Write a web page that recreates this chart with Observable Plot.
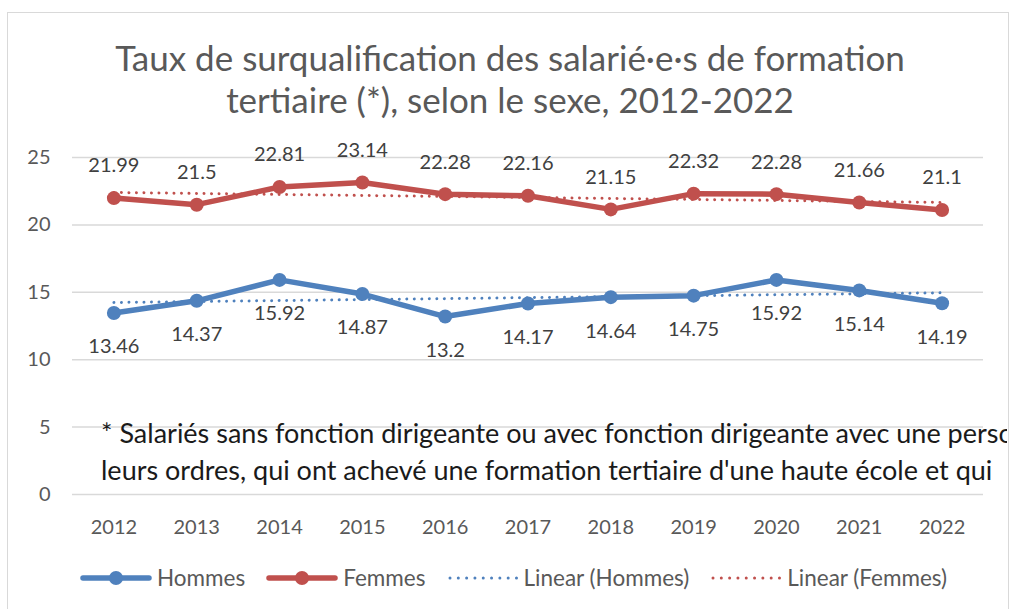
<!DOCTYPE html>
<html><head><meta charset="utf-8">
<script src="https://cdn.jsdelivr.net/npm/d3@7"></script>
<script src="https://cdn.jsdelivr.net/npm/@observablehq/plot@0.6"></script>
<style>
body{margin:0;background:#fff;width:1016px;height:609px;overflow:hidden;position:relative;font-family:Lato,sans-serif;}
#frame{position:absolute;left:7px;top:12px;width:1002px;height:640px;border:1.5px solid #d9d9d9;box-sizing:border-box;}
#chart{position:absolute;left:0;top:0;}
#title{position:absolute;left:0;width:1020px;top:36px;text-align:center;font-size:35px;line-height:42px;color:#595959;}
#note{position:absolute;left:101px;top:414px;width:906px;overflow:hidden;white-space:nowrap;font-size:27px;line-height:37px;color:#1a1a1a;}
#legend{position:absolute;left:80px;top:564px;display:flex;gap:21px;font-size:22.5px;color:#595959;align-items:center;}
.item{display:flex;align-items:center;gap:5px;}
</style></head><body>
<div id="frame"></div>
<div id="chart"></div>
<div id="title">Taux de surqualification des salarié·e·s de formation<br>tertiaire (*), selon le sexe, 2012-2022</div>
<div id="note">* Salariés sans fonction dirigeante ou avec fonction dirigeante avec une personne sous<br>leurs ordres, qui ont achevé une formation tertiaire d'une haute école et qui</div>
<div id="legend"></div>
<script>
const years = [2012, 2013, 2014, 2015, 2016, 2017, 2018, 2019, 2020, 2021, 2022];
const hommes = [13.46, 14.37, 15.92, 14.87, 13.2, 14.17, 14.64, 14.75, 15.92, 15.14, 14.19];
const femmes = [21.99, 21.5, 22.81, 23.14, 22.28, 22.16, 21.15, 22.32, 22.28, 21.66, 21.1];
const yTicks = [0, 5, 10, 15, 20, 25];
const seriesNames = ["Hommes", "Femmes"];
const legendLabels = ["Hommes", "Femmes", "Linear (Hommes)", "Linear (Femmes)"];
const colors = {Hommes: "#4f81bd", Femmes: "#c0504d"};

const rows = years.map((year, i) => ({year, Hommes: hommes[i], Femmes: femmes[i]}));
const dash = "0.01 7.5";

const marks = [
  Plot.gridY(yTicks, {stroke: "#d9d9d9", strokeOpacity: 1, strokeWidth: 1.5}),
  Plot.axisY(yTicks, {tickSize: 0, tickPadding: 22, label: null, fontSize: 20, fill: "#595959"}),
  Plot.axisX(years, {tickSize: 0, tickPadding: 25, label: null, tickFormat: d => String(d), fontSize: 20, fill: "#595959"})
];
for (const s of seriesNames) {
  marks.push(Plot.line(rows, {x: "year", y: s, stroke: colors[s], strokeWidth: 5.5}));
}
for (const s of seriesNames) {
  marks.push(Plot.linearRegressionY(rows, {x: "year", y: s, stroke: colors[s], strokeWidth: 3, strokeDasharray: dash, strokeLinecap: "round", ci: 0}));
}
for (const s of seriesNames) {
  marks.push(Plot.dot(rows, {x: "year", y: s, r: 7, fill: colors[s]}));
}
marks.push(Plot.text(rows, {x: "year", y: "Femmes", text: d => String(d.Femmes), dy: -32, fontSize: 20, fill: "#404040"}));
marks.push(Plot.text(rows, {x: "year", y: "Hommes", text: d => String(d.Hommes), dy: 34, fontSize: 20, fill: "#404040"}));

const chart = Plot.plot({
  width: 1016, height: 609,
  marginLeft: 72, marginRight: 33, marginTop: 157, marginBottom: 115,
  x: {type: "linear", domain: [2011.5, 2022.5]},
  y: {domain: [0, 25]},
  style: {fontFamily: "Lato, sans-serif", fontSize: "20px", background: "transparent", color: "#595959"},
  marks
});
document.getElementById("chart").appendChild(chart);

// legend
const legend = document.getElementById("legend");
const ns = "http://www.w3.org/2000/svg";
legendLabels.forEach((lab, i) => {
  const s = seriesNames[i % 2];
  const item = document.createElement("div");
  item.className = "item";
  const sw = document.createElementNS(ns, "svg");
  sw.setAttribute("width", 72); sw.setAttribute("height", 20);
  const ln = document.createElementNS(ns, "line");
  ln.setAttribute("y1", 10); ln.setAttribute("y2", 10);
  ln.setAttribute("stroke", colors[s]);
  ln.setAttribute("stroke-linecap", "round");
  if (i < 2) {
    ln.setAttribute("x1", 3); ln.setAttribute("x2", 69);
    ln.setAttribute("stroke-width", 5.5);
    sw.appendChild(ln);
    const c = document.createElementNS(ns, "circle");
    c.setAttribute("cx", 36); c.setAttribute("cy", 10); c.setAttribute("r", 7); c.setAttribute("fill", colors[s]);
    sw.appendChild(c);
  } else {
    ln.setAttribute("x1", 3); ln.setAttribute("x2", 70);
    ln.setAttribute("stroke-width", 3);
    ln.setAttribute("stroke-dasharray", "0.01 8.3");
    sw.appendChild(ln);
  }
  item.appendChild(sw);
  const t = document.createElement("span");
  t.textContent = lab;
  item.appendChild(t);
  legend.appendChild(item);
});
</script>
</body></html>
